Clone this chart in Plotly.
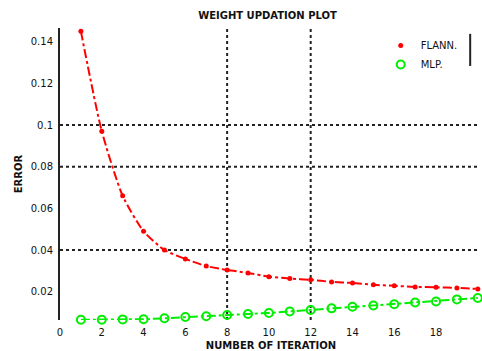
import plotly.graph_objects as go

# ---- data ----
iterations = list(range(1, 21))
flann_error = [0.145, 0.097, 0.066, 0.049, 0.040, 0.0357, 0.0323, 0.0304, 0.0290, 0.0272,
               0.0263, 0.0257, 0.0247, 0.0242, 0.0233, 0.0228, 0.0223, 0.0221, 0.0218, 0.0213]
mlp_error = [0.0065, 0.0065, 0.0067, 0.0068, 0.0072, 0.0078, 0.0082, 0.0088, 0.0093, 0.0098,
             0.0105, 0.0112, 0.0120, 0.0128, 0.0134, 0.0140, 0.0148, 0.0153, 0.0163, 0.0170]
series_names = ["FLANN.", "MLP."]
x_tickvals = [0, 2, 4, 6, 8, 10, 12, 14, 16, 18, 20]
y_tickvals = [0.02, 0.04, 0.06, 0.08, 0.1, 0.12, 0.14]
y_ticktext = ["0.02", "0.04", "0.06", "0.08", "0.1", "0.12", "0.14"]
grid_x = [8, 12]
grid_y = [0.04, 0.08, 0.1]
x_range = [0, 20.2]
y_range = [0.0064, 0.1466]

FONT = "DejaVu Sans, Liberation Sans, sans-serif"
RED = "#ff0000"
GREEN = "#00ee00"
INK = "#111111"

fig = go.Figure()
fig.add_trace(go.Scatter(
    x=iterations, y=flann_error, name=series_names[0], mode="lines+markers", showlegend=False,
    line=dict(color=RED, width=2, dash="dashdot", shape="spline", smoothing=0.6),
    marker=dict(color=RED, size=5, symbol="circle"),
))
fig.add_trace(go.Scatter(
    x=iterations, y=mlp_error, name=series_names[1], mode="lines+markers", showlegend=False,
    line=dict(color=GREEN, width=2, dash="dashdot"),
    marker=dict(color=GREEN, size=8, symbol="circle-open", line=dict(width=2)),
    cliponaxis=False,
))
# legend entries (marker only, as in the reference legend)
fig.add_trace(go.Scatter(x=[None], y=[None], name=series_names[0], mode="markers",
                         marker=dict(color=RED, size=5, symbol="circle")))
fig.add_trace(go.Scatter(x=[None], y=[None], name=series_names[1], mode="markers",
                         marker=dict(color=GREEN, size=8, symbol="circle-open", line=dict(width=2))))

shapes = []
for gx in grid_x:
    shapes.append(dict(type="line", xref="x", yref="paper", x0=gx, x1=gx, y0=0, y1=1,
                       line=dict(color="#222222", width=2, dash="dot"), layer="below"))
for gy in grid_y:
    shapes.append(dict(type="line", xref="paper", yref="y", x0=0, x1=0.99, y0=gy, y1=gy,
                       line=dict(color="#222222", width=2, dash="dot"), layer="below"))
# legend right border fragment
shapes.append(dict(type="line", xref="paper", yref="paper", x0=0.972, x1=0.972, y0=0.87, y1=0.98,
                   line=dict(color="#222222", width=2)))

fig.update_layout(
    width=482, height=351,
    margin=dict(l=60, r=0, t=28, b=31, autoexpand=False),
    paper_bgcolor="white", plot_bgcolor="white",
    font=dict(family=FONT, size=10, color=INK),
    title=dict(text="<b>WEIGHT UPDATION PLOT</b>", x=0.555, xanchor="center", y=0.955, yanchor="middle",
               font=dict(size=10, family=FONT, color=INK)),
    showlegend=True,
    legend=dict(x=0.76, y=0.99, xanchor="left", yanchor="top", bgcolor="rgba(0,0,0,0)",
                font=dict(size=10, family=FONT, color=INK), itemwidth=30,
                tracegroupgap=0),
    shapes=shapes,
)
fig.update_xaxes(range=x_range, tickvals=x_tickvals, showgrid=False, zeroline=False, automargin=False,
                 showline=False, ticks="", ticklabelstandoff=5,
                 tickfont=dict(size=10, family=FONT, color=INK),
                 title=dict(text="<b>NUMBER OF ITERATION</b>", standoff=5,
                            font=dict(size=10, family=FONT, color=INK)))
fig.update_yaxes(range=y_range, tickvals=y_tickvals, ticktext=y_ticktext, showgrid=False, automargin=False,
                 zeroline=False, showline=True, linecolor="#222222", linewidth=2, ticks="",
                 ticklabelstandoff=3,
                 tickfont=dict(size=10, family=FONT, color=INK),
                 title=dict(text="<b>ERROR</b>", standoff=6,
                            font=dict(size=10, family=FONT, color=INK)))

fig.write_html("out.html", config={"displayModeBar": False},
               post_script="document.body.style.margin='0';document.body.style.overflow='hidden';")
